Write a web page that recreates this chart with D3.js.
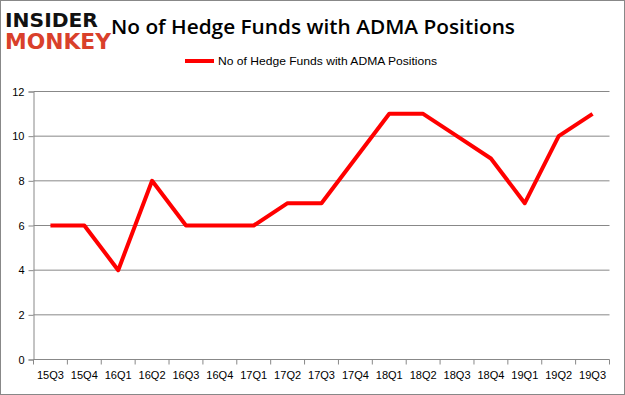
<!DOCTYPE html>
<html><head><meta charset="utf-8">
<script src="https://cdn.jsdelivr.net/npm/d3@7"></script>
<style>body{margin:0;background:#fff}svg{display:block}</style>
</head><body>
<script>
const categories = ["15Q3","15Q4","16Q1","16Q2","16Q3","16Q4","17Q1","17Q2","17Q3","17Q4","18Q1","18Q2","18Q3","18Q4","19Q1","19Q2","19Q3"];
const values = [6,6,4,8,6,6,6,7,7,9,11,11,10,9,7,10,11];
const yTicks = [0,2,4,6,8,10,12];
const seriesName = "No of Hedge Funds with ADMA Positions";
const titleText = "No of Hedge Funds with ADMA Positions";

(function(){
const W = 625, H = 395;
const svg = d3.select("body").append("svg").attr("width", W).attr("height", H);
svg.append("rect").attr("x",0.5).attr("y",0.5).attr("width",W-1).attr("height",H-1).attr("fill","#fff").attr("stroke","#888");

const pLeft = 33.5, pRight = 609.5, pTop = 91.5, pBottom = 359.5;
const x = d3.scaleBand().domain(categories).range([pLeft, pRight]);
const y = d3.scaleLinear().domain([0,12]).range([pBottom, pTop]);

// grid
svg.append("g").selectAll("line").data(yTicks.filter(d=>d>0)).join("line")
  .attr("x1", pLeft).attr("x2", pRight).attr("y1", d=>y(d)).attr("y2", d=>y(d))
  .attr("stroke","#888").attr("stroke-width",1);

// y axis
const ya = svg.append("g").attr("transform",`translate(${pLeft},0)`)
  .call(d3.axisLeft(y).tickValues(yTicks).tickSize(5).tickPadding(4));
ya.select(".domain").attr("stroke","#888");
ya.selectAll(".tick line").attr("stroke","#888");
ya.selectAll("text").attr("font-family","Liberation Sans, Arial, sans-serif").attr("font-size","11px").attr("fill","#000");

// x axis
const xa = svg.append("g").attr("transform",`translate(0,${pBottom})`)
  .call(d3.axisBottom(x).tickSize(0).tickPadding(12));
xa.select(".domain").attr("stroke","#888").attr("d",`M${pLeft},0H${pRight}`);
xa.selectAll("text").attr("font-family","Liberation Sans, Arial, sans-serif").attr("font-size","11px").attr("fill","#000")
  .attr("textLength",27).attr("lengthAdjust","spacingAndGlyphs");
xa.selectAll(".bt").data(categories.concat(["end"])).join("line").attr("class","bt")
  .attr("x1",(d,i)=> i<categories.length ? x(d) : pRight)
  .attr("x2",(d,i)=> i<categories.length ? x(d) : pRight)
  .attr("y1",0).attr("y2",5).attr("stroke","#888");

// line
const line = d3.line().x((d,i)=>x(categories[i])+x.bandwidth()/2).y(d=>y(d));
svg.append("path").datum(values).attr("d",line).attr("fill","none")
  .attr("stroke","#ff0000").attr("stroke-width",4).attr("stroke-linejoin","round").attr("stroke-linecap","butt");

// legend
svg.append("line").attr("x1",185).attr("x2",214).attr("y1",61).attr("y2",61).attr("stroke","#ff0000").attr("stroke-width",4);
svg.append("text").attr("x",218).attr("y",65).text(seriesName)
  .attr("font-family","Liberation Sans, Arial, sans-serif").attr("font-size","11px").attr("fill","#000")
  .attr("textLength",219).attr("lengthAdjust","spacingAndGlyphs");

// title
svg.append("text").attr("x",111).attr("y",34).text(titleText)
  .attr("font-family","Open Sans, sans-serif").attr("font-size","20px").attr("font-weight","600").attr("fill","#000")
  .attr("textLength",404).attr("lengthAdjust","spacingAndGlyphs");

// logo
svg.append("text").attr("x",5).attr("y",27).text("INSIDER")
  .attr("font-family","DejaVu Sans, sans-serif").attr("font-weight","bold").attr("font-size","20px").attr("fill","#111")
  .attr("textLength",93).attr("lengthAdjust","spacingAndGlyphs");
svg.append("text").attr("x",5).attr("y",49).text("MONKEY")
  .attr("font-family","DejaVu Sans, sans-serif").attr("font-weight","bold").attr("font-size","21px").attr("fill","#d9402b")
  .attr("textLength",106).attr("lengthAdjust","spacingAndGlyphs");
})();
</script>
</body></html>
